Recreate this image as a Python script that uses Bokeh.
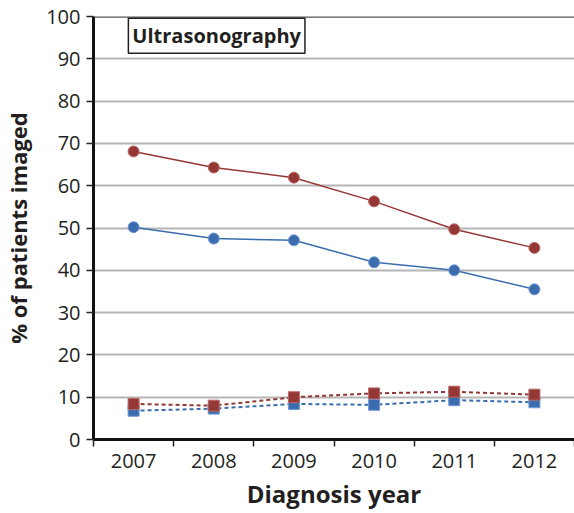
from bokeh.plotting import figure
from bokeh.models import FixedTicker, Span, Label, ColumnDataSource, Range1d
from bokeh.embed import file_html
from bokeh.resources import INLINE

years = ["2007", "2008", "2009", "2010", "2011", "2012"]
red_circles = [68.1, 64.3, 61.9, 56.3, 49.7, 45.3]
blue_circles = [50.2, 47.5, 47.1, 41.9, 40.0, 35.5]
red_squares = [8.4, 8.0, 10.0, 10.9, 11.3, 10.6]
blue_squares = [6.8, 7.3, 8.4, 8.2, 9.3, 8.8]
y_ticks = [0, 10, 20, 30, 40, 50, 60, 70, 80, 90, 100]
title_text = "Ultrasonography"

xpos = [i + 0.5 for i in range(len(years))]
src = ColumnDataSource(dict(x=xpos, rc=red_circles, bc=blue_circles, rs=red_squares, bs=blue_squares))

FONT = "Open Sans"
RED = "#953735"
BLUE = "#3b6cae"

p = figure(width=574, height=513, output_backend="svg", toolbar_location=None,
           x_range=Range1d(0, len(years)), y_range=Range1d(0, 100),
           min_border_left=92, min_border_right=0, min_border_top=16, min_border_bottom=74)
p.outline_line_color = None
p.background_fill_color = "white"
p.border_fill_color = "white"

# grid
p.xgrid.visible = False
p.ygrid.ticker = FixedTicker(ticks=y_ticks[1:-1])
p.ygrid.grid_line_color = "#b5b5b5"
p.ygrid.grid_line_width = 2

p.add_layout(Span(location=100, dimension="width", line_color="#555555", line_width=2.5))

# x axis
xa = p.xaxis[0]
xa.ticker = FixedTicker(ticks=xpos, minor_ticks=list(range(len(years) + 1)))
xa.major_label_overrides = {x: y for x, y in zip(xpos, years)}
xa.major_tick_out = 0
xa.major_tick_in = 0
xa.minor_tick_out = 7
xa.minor_tick_in = 0
xa.minor_tick_line_color = "#222222"
xa.minor_tick_line_width = 1.5
xa.axis_line_color = "#111111"
xa.axis_line_width = 3
xa.major_label_text_font = FONT
xa.major_label_text_font_size = "20px"
xa.major_label_text_color = "#231f20"
xa.major_label_standoff = 7
xa.axis_label = "Diagnosis year"
xa.axis_label_text_font = FONT
xa.axis_label_text_font_size = "24px"
xa.axis_label_text_font_style = "bold"
xa.axis_label_text_color = "#231f20"
xa.axis_label_standoff = 6

ya = p.yaxis[0]
ya.ticker = FixedTicker(ticks=y_ticks)
ya.major_tick_out = 7
ya.major_tick_in = 0
ya.major_tick_line_color = "#222222"
ya.major_tick_line_width = 1.5
ya.minor_tick_out = 0
ya.minor_tick_in = 0
ya.axis_line_color = "#111111"
ya.axis_line_width = 3
ya.major_label_text_font = FONT
ya.major_label_text_font_size = "20px"
ya.major_label_text_color = "#231f20"
ya.major_label_standoff = 6
ya.axis_label = "% of patients imaged"
ya.axis_label_text_font = FONT
ya.axis_label_text_font_size = "22px"
ya.axis_label_text_font_style = "bold"
ya.axis_label_text_color = "#231f20"
ya.axis_label_standoff = 10

# series
p.line("x", "rc", source=src, line_color=RED, line_width=1.5)
p.scatter("x", "rc", source=src, marker="circle", size=11, fill_color=RED, line_color="#b86a68", line_width=1)
p.line("x", "bc", source=src, line_color=BLUE, line_width=1.5)
p.scatter("x", "bc", source=src, marker="circle", size=11, fill_color=BLUE, line_color="#6f9ad6", line_width=1)

p.line("x", "rs", source=src, line_color=RED, line_width=2, line_dash="4 3")
p.line("x", "bs", source=src, line_color=BLUE, line_width=2, line_dash="4 3")
p.scatter("x", "bs", source=src, marker="square", size=11, fill_color=BLUE, line_color="#6f9ad6", line_width=1)
p.scatter("x", "rs", source=src, marker="square", size=11, fill_color=RED, line_color="#b86a68", line_width=1)

p.add_layout(Label(x=0.435, y=99.6, text=title_text, anchor="top_left",
                   text_font=FONT, text_font_size="20px", text_font_style="bold", text_color="#231f20",
                   border_line_color="#231f20", border_line_width=1.5, background_fill_color="white",
                   padding=4))

open("out.html", "w").write(file_html(p, INLINE))
